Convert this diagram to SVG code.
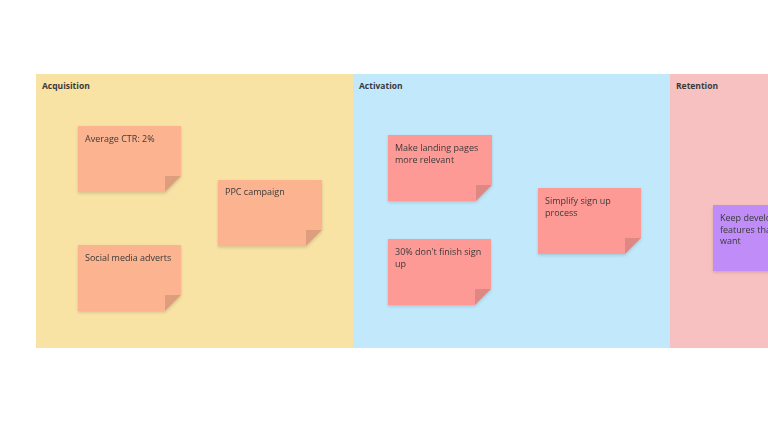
<svg xmlns="http://www.w3.org/2000/svg" width="768" height="432" viewBox="0 0 768 432">
<defs><style>
.t{font-family:"Open Sans","Liberation Sans",sans-serif;font-size:9px;fill:#3a3a3a}
.h{font-family:"Open Sans","Liberation Sans",sans-serif;font-size:8.5px;font-weight:bold;fill:#3a3a3a}
.fold{fill:#000;opacity:0.12}
</style>
<filter id="sh" x="-10%" y="-10%" width="130%" height="130%"><feDropShadow dx="0" dy="1.5" stdDeviation="1.5" flood-opacity="0.15"/></filter>
</defs>
<rect width="768" height="432" fill="#ffffff"/>
<g id="acquisition"><rect x="36" y="74" width="317" height="274" fill="#f8e2a4"/><text class="h" x="42" y="89">Acquisition</text></g>
<g id="activation"><rect x="353" y="74" width="317" height="274" fill="#c1e9fb"/><text class="h" x="359" y="89">Activation</text></g>
<g id="retention"><rect x="670" y="74" width="98" height="274" fill="#f8c1c1"/><text class="h" x="676" y="89">Retention</text></g>
<g id="n1" filter="url(#sh)"><path d="M78 126H181V176L165 192H78Z" fill="#fbb48f"/><path class="fold" d="M181 176L165 192V176Z"/><text class="t" x="85" y="142">Average CTR: 2%</text></g>
<g id="n2" filter="url(#sh)"><path d="M218 180H322V230L306 246H218Z" fill="#fbb48f"/><path class="fold" d="M322 230L306 246V230Z"/><text class="t" x="225" y="195">PPC campaign</text></g>
<g id="n3" filter="url(#sh)"><path d="M78 245H181V295L165 311H78Z" fill="#fbb48f"/><path class="fold" d="M181 295L165 311V295Z"/><text class="t" x="85" y="261">Social media adverts</text></g>
<g id="n4" filter="url(#sh)"><path d="M388 135H492V185L476 201H388Z" fill="#fd9a96"/><path class="fold" d="M492 185L476 201V185Z"/><text class="t" x="395" y="151">Make landing pages<tspan x="395" dy="12">more relevant</tspan></text></g>
<g id="n5" filter="url(#sh)"><path d="M388 239H491V289L475 305H388Z" fill="#fd9a96"/><path class="fold" d="M491 289L475 305V289Z"/><text class="t" x="395" y="255">30% don't finish sign<tspan x="395" dy="12">up</tspan></text></g>
<g id="n6" filter="url(#sh)"><path d="M538 188H641V238L625 254H538Z" fill="#fd9a96"/><path class="fold" d="M641 238L625 254V238Z"/><text class="t" x="545" y="204">Simplify sign up<tspan x="545" dy="12">process</tspan></text></g>
<g id="n7" filter="url(#sh)"><rect x="713" y="205" width="70" height="66" fill="#c08cf8"/><text class="t" x="720" y="221">Keep developing<tspan x="720" dy="11.5">features that users</tspan><tspan x="720" dy="11.5">want</tspan></text></g>
<g id="connectors"/>
</svg>
